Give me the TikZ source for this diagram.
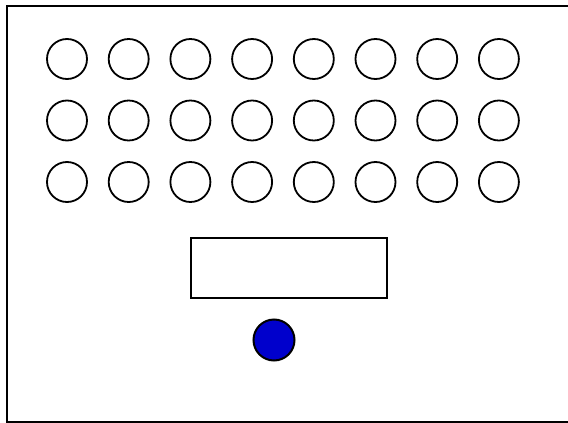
\documentclass[tikz,border=0pt]{standalone}
\usepackage{tikz}
\usetikzlibrary{positioning}

\tikzset{
  seat/.style={circle, draw, line width=1.8pt, minimum size=40pt, inner sep=0pt},
  desk/.style={rectangle, draw, line width=2pt, minimum width=196pt, minimum height=60pt},
  teacher/.style={circle, draw, line width=2pt, fill={rgb,255:red,0;green,0;blue,204}, minimum size=41pt, inner sep=0pt}
}

\begin{document}
\begin{tikzpicture}[x=1pt, y=-1pt]
    \clip (0,0) rectangle (568,423);
    \useasboundingbox (0,0) rectangle (568,423);
    \draw[line width=2pt] (7,6) rectangle (600,422);
    % rows of seats
    \foreach \r in {0,1,2} {
      \foreach \c in {0,...,7} {
        \node[seat] (s\r\c) at (67+61.7*\c, 59+61.5*\r) {};
      }
    }
    \node[desk] (board) at (288.5,267.5) {};
    \node[teacher] (t) at (274,340) {};
  \end{tikzpicture}
\end{document}
